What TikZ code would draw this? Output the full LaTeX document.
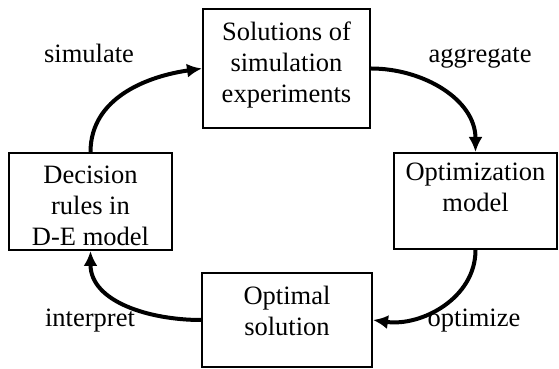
\documentclass[tikz,border=0pt]{standalone}
\usepackage{fontspec}
\setmainfont{Liberation Serif}
\usepackage{tikz}
\usetikzlibrary{arrows.meta,positioning}

\tikzset{
	stagebox/.style={draw=black, line width=2pt, minimum width=#1},
	stagetext/.style={inner sep=0, align=center, font=\fontsize{26.5}{31}\selectfont},
	steplabel/.style={inner sep=0, anchor=base, font=\fontsize{26.5}{31}\selectfont},
	flow/.style={line width=4pt, -{Latex[length=15pt,width=14pt]}}
}

\begin{document}
\begin{tikzpicture}[x=1pt, y=1pt]
		%%%%% START %%%%%
		
		\useasboundingbox (0, 0) rectangle (559, 369);
		
		\node[stagebox=167, minimum height=119] (sol) at (286.5, 300.5) {};
		\node[stagebox=163, minimum height=97] (rules) at (90.5, 167.5) {};
		\node[stagebox=163, minimum height=96] (opt) at (475.5, 168) {};
		\node[stagebox=170, minimum height=94] (optsol) at (287, 49) {};
		
		\node[stagetext, below=14pt of sol.north] (soltxt) {Solutions of\\simulation\\experiments};
		\node[stagetext, below=14pt of rules.north] (rulestxt) {Decision\\rules in\\D-E model};
		\node[stagetext, below=11pt of opt.north] (opttxt) {Optimization\\model};
		\node[stagetext, below=14pt of optsol.north] (optsoltxt) {Optimal\\solution};
		
		\draw[flow] (rules.north) to[out=90, in=188] (sol.west);
		\draw[flow] (sol.east) to[out=0, in=90] (opt.north);
		\draw[flow] (opt.south) to[out=-90, in=-8] (optsol.east);
		\draw[flow] (optsol.west) to[out=180, in=-90] (rules.south);
		
		\node[steplabel] (simulate) at (89, 306) {simulate};
		\node[steplabel] (aggregate) at (480, 306) {aggregate};
		\node[steplabel] (optimize) at (474, 42) {optimize};
		\node[steplabel] (interpret) at (90, 42) {interpret};
		
		%%%%% END %%%%%
	\end{tikzpicture}
\end{document}
